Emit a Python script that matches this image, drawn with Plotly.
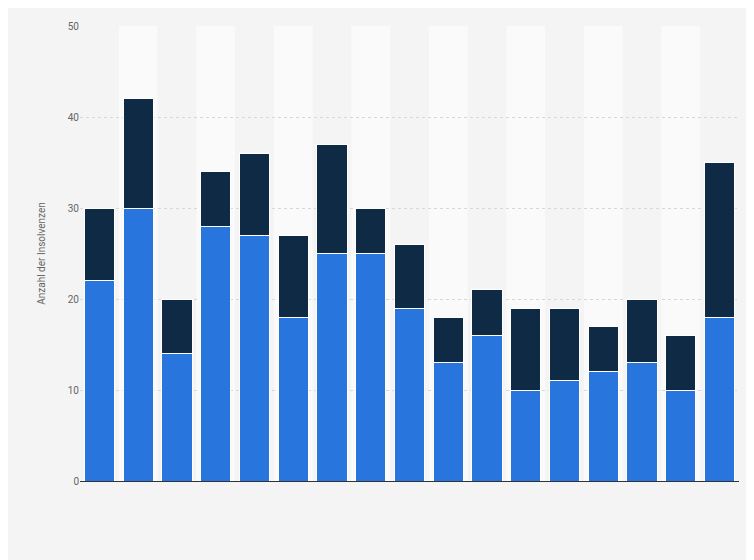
import plotly.graph_objects as go

categories = [str(i) for i in range(1, 18)]
blue_vals = [22, 30, 14, 28, 27, 18, 25, 25, 19, 13, 16, 10, 11, 12, 13, 10, 18]
dark_vals = [8, 12, 6, 6, 9, 9, 12, 5, 7, 5, 5, 9, 8, 5, 7, 6, 17]

fig = go.Figure()
fig.add_trace(go.Bar(x=categories, y=blue_vals, marker=dict(color="#2876dd", line=dict(color="white", width=1)), width=0.78))
fig.add_trace(go.Bar(x=categories, y=dark_vals, marker=dict(color="#0f2a45", line=dict(color="white", width=1)), width=0.78))

# alternating column bands
shapes = []
for i in range(1, len(categories), 2):
    shapes.append(dict(type="rect", xref="x", yref="paper", x0=i - 0.5, x1=i + 0.5, y0=0, y1=1,
                       fillcolor="#fafafa", line=dict(width=0), layer="below"))

fig.update_layout(
    barmode="stack", showlegend=False, width=754, height=560,
    paper_bgcolor="#f4f4f4", plot_bgcolor="#f4f4f4",
    margin=dict(l=72, r=23, t=12, b=87),
    font=dict(family="Roboto, Arial", size=10, color="#666"),
    shapes=shapes,
    xaxis=dict(showticklabels=False, showline=True, linecolor="#333", linewidth=1, range=[-0.5, 16.5]),
    yaxis=dict(range=[0, 50], dtick=10, gridcolor="#d8d8d8", griddash="dot", zeroline=False,
               title=dict(text="Anzahl der Insolvenzen", font=dict(size=10, color="#666"), standoff=20),
               tickfont=dict(size=10, color="#666")),
)
fig.write_html("out.html")
